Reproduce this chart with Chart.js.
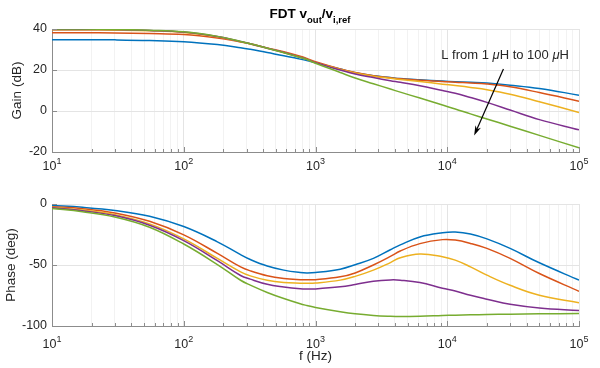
<!DOCTYPE html>
<html>
<head>
<meta charset="utf-8">
<script src="https://cdn.jsdelivr.net/npm/chart.js@4/dist/chart.umd.min.js"></script>
<style>
  body { margin: 0; background: #fff; }
  canvas { display: block; }
</style>
</head>
<body>
<canvas id="gainChart" width="600" height="184"></canvas>
<canvas id="phaseChart" width="600" height="184"></canvas>
<script>
// frequency points (Hz)
const freq = [10, 17, 30, 55, 100, 180, 270, 320, 430, 575, 765, 860, 1000, 1540, 2000, 2750, 3700, 4400, 6200, 9200, 11500, 15000, 20000, 30000, 50000, 100000];

// gain (dB), L from 1 uH (first) to 100 uH (last)
const gainL1 = [34.8, 34.8, 34.7, 34.4, 33.8, 32.4, 30.9, 30.1, 28.5, 27.0, 25.3, 24.6, 23.5, 20.5, 18.7, 17.2, 16.3, 15.8, 15.2, 14.6, 14.3, 14.0, 13.6, 12.6, 11.0, 7.7];
const gainL2 = [38.2, 38.2, 38.1, 37.8, 37.3, 35.6, 33.7, 32.8, 30.8, 28.9, 26.7, 25.6, 24.0, 20.5, 18.8, 17.2, 16.2, 15.7, 15.0, 14.4, 14.0, 13.7, 13.2, 11.8, 9.0, 4.8];
const gainL3 = [39.5, 39.5, 39.4, 39.1, 38.3, 36.2, 33.8, 32.7, 30.6, 28.5, 26.2, 25.2, 23.6, 20.3, 18.5, 17.0, 16.0, 15.4, 14.4, 13.1, 12.4, 11.5, 10.4, 8.2, 4.5, -0.7];
const gainL4 = [39.8, 39.8, 39.7, 39.3, 38.5, 36.3, 33.9, 32.8, 30.6, 28.5, 26.2, 25.2, 23.6, 20.0, 18.0, 16.3, 14.8, 14.0, 12.3, 10.0, 8.7, 6.6, 4.2, 0.5, -4.2, -9.2];
const gainL5 = [40.0, 40.0, 39.8, 39.4, 38.6, 36.4, 33.9, 32.8, 30.6, 28.4, 26.1, 25.1, 23.3, 18.8, 16.1, 13.3, 10.7, 9.2, 6.3, 2.9, 1.0, -1.4, -3.9, -7.4, -11.9, -18.0];

// phase (deg)
const phaseL1 = [-1.2, -2.7, -5.3, -10.0, -18.5, -31.0, -41.5, -45.5, -50.8, -54.2, -56.2, -56.5, -56.2, -53.4, -49.8, -44.6, -37.5, -33.5, -27.0, -23.6, -23.0, -24.6, -28.6, -36.4, -48.2, -62.4];
const phaseL2 = [-2.2, -3.8, -7.3, -14.2, -25.3, -40.5, -51.6, -54.8, -58.8, -61.0, -62.0, -62.1, -62.0, -59.7, -56.5, -50.0, -43.0, -38.5, -32.5, -29.2, -29.6, -32.3, -36.4, -44.6, -57.0, -71.5];
const phaseL3 = [-2.7, -4.9, -8.7, -16.3, -28.6, -44.6, -55.6, -58.9, -62.5, -64.3, -64.9, -65.0, -64.8, -62.4, -59.3, -54.2, -48.0, -44.0, -41.0, -43.2, -46.0, -51.5, -58.3, -66.6, -74.8, -81.0];
const phaseL4 = [-3.0, -5.5, -9.5, -17.4, -30.0, -46.5, -58.6, -61.6, -65.8, -68.0, -69.5, -69.7, -69.6, -67.9, -66.0, -63.3, -62.2, -62.4, -64.3, -69.0, -71.3, -74.8, -78.0, -82.2, -85.2, -87.3];
const phaseL5 = [-3.6, -6.3, -10.6, -19.0, -32.8, -49.6, -62.5, -66.5, -72.5, -77.5, -81.8, -83.2, -84.8, -88.3, -90.0, -91.3, -92.0, -92.2, -92.0, -91.4, -91.1, -90.8, -90.6, -90.3, -90.0, -89.8];

const seriesLabels = ['L1', 'L2', 'L3', 'L4', 'L5'];
const seriesColors = ['#0072BD', '#D95319', '#EDB120', '#7E2F8E', '#77AC30'];

// x axis ticks
const xMajor = [10, 100, 1000, 10000, 100000];
const xExponents = ['1', '2', '3', '4', '5'];
const xGridTicks = [];
xMajor.forEach((m, i) => {
  xGridTicks.push(m);
  if (i < xMajor.length - 1) [2, 3, 4, 5, 6, 7, 8, 9].forEach(k => xGridTicks.push(m * k));
});

const FONT = "'Liberation Sans', Arial, Helvetica, sans-serif";
const TXT = '#262626';
const AXIS = '#8c8c8c';
Chart.defaults.font.family = FONT;

function makeDatasets(arrays) {
  return arrays.map((arr, i) => ({
    label: seriesLabels[i],
    data: freq.map((f, j) => ({ x: f, y: arr[j] })),
    borderColor: seriesColors[i],
    borderWidth: 1.5,
    pointRadius: 0,
    fill: false,
    tension: 0.4,
    order: arrays.length - i
  }));
}

// inward tick marks + "10^n" labels
const axisDecor = {
  id: 'axisDecor',
  afterDraw(chart, args, opts) {
    const { ctx, chartArea: a, scales: { x, y } } = chart;
    ctx.save();
    ctx.strokeStyle = AXIS;
    ctx.lineWidth = 1;
    ctx.beginPath();
    x.ticks.forEach(t => {
      const px = Math.round(x.getPixelForValue(t.value)) + 0.5;
      const len = t.major ? 5 : 3;
      ctx.moveTo(px, a.bottom);
      ctx.lineTo(px, a.bottom - len);
    });
    y.ticks.forEach(t => {
      const py = Math.round(y.getPixelForValue(t.value)) + 0.5;
      ctx.moveTo(a.left, py);
      ctx.lineTo(a.left + 5, py);
    });
    ctx.stroke();

    ctx.fillStyle = TXT;
    ctx.textBaseline = 'alphabetic';
    ctx.textAlign = 'left';
    xMajor.forEach((v, i) => {
      const px = x.getPixelForValue(v);
      ctx.font = '12.5px ' + FONT;
      const wBase = ctx.measureText('10').width;
      ctx.font = '9px ' + FONT;
      const wExp = ctx.measureText(xExponents[i]).width;
      const x0 = px - (wBase + wExp) / 2;
      ctx.font = '12.5px ' + FONT;
      ctx.fillText('10', x0, a.bottom + opts.labelOffset);
      ctx.font = '9px ' + FONT;
      ctx.fillText(xExponents[i], x0 + wBase, a.bottom + opts.labelOffset - 6);
    });
    ctx.restore();
  }
};

// title with subscripts + arrow annotation
const gainExtras = {
  id: 'gainExtras',
  afterDraw(chart) {
    const { ctx, scales: { x, y } } = chart;
    ctx.save();
    ctx.fillStyle = '#000';
    ctx.textBaseline = 'alphabetic';
    ctx.textAlign = 'left';
    const parts = [
      ['FDT v', 13.5, 0], ['out', 9.5, 5], ['/v', 13.5, 0], ['i,ref', 9.5, 5]
    ];
    let total = 0;
    parts.forEach(p => { ctx.font = 'bold ' + p[1] + 'px ' + FONT; total += ctx.measureText(p[0]).width; });
    let tx = 310 - total / 2;
    parts.forEach(p => {
      ctx.font = 'bold ' + p[1] + 'px ' + FONT;
      ctx.fillText(p[0], tx, 18 + p[2]);
      tx += ctx.measureText(p[0]).width;
    });

    // annotation text
    ctx.fillStyle = TXT;
    const ann = [['L from 1 ', ''], ['\u03bc', 'italic '], ['H to 100 ', ''], ['\u03bc', 'italic '], ['H', '']];
    let ax = x.getPixelForValue(9000);
    const ay = y.getPixelForValue(25.5);
    ann.forEach(p => {
      ctx.font = p[1] + '13px ' + FONT;
      ctx.fillText(p[0], ax, ay);
      ax += ctx.measureText(p[0]).width;
    });

    // arrow
    const x1 = x.getPixelForValue(26700), y1 = y.getPixelForValue(20.5);
    const x2 = x.getPixelForValue(16000), y2 = y.getPixelForValue(-12);
    const ang = Math.atan2(y2 - y1, x2 - x1);
    ctx.strokeStyle = '#000';
    ctx.lineWidth = 1.2;
    ctx.beginPath();
    ctx.moveTo(x1, y1);
    ctx.lineTo(x2 - 6 * Math.cos(ang), y2 - 6 * Math.sin(ang));
    ctx.stroke();
    ctx.fillStyle = '#000';
    ctx.beginPath();
    ctx.moveTo(x2, y2);
    ctx.lineTo(x2 - 10 * Math.cos(ang) + 3 * Math.sin(ang), y2 - 10 * Math.sin(ang) - 3 * Math.cos(ang));
    ctx.lineTo(x2 - 7 * Math.cos(ang), y2 - 7 * Math.sin(ang));
    ctx.lineTo(x2 - 10 * Math.cos(ang) - 3 * Math.sin(ang), y2 - 10 * Math.sin(ang) + 3 * Math.cos(ang));
    ctx.closePath();
    ctx.fill();
    ctx.restore();
  }
};

function xScale(height, titleText) {
  return {
    type: 'logarithmic',
    min: 10,
    max: 100000,
    afterBuildTicks(s) { s.ticks = xGridTicks.map(v => ({ value: v, major: xMajor.includes(v) })); },
    ticks: { display: false },
    grid: { color: c => (c.tick && c.tick.major ? '#e4e4e4' : '#f2f2f2'), drawTicks: false },
    border: { color: AXIS },
    title: titleText
      ? { display: true, text: titleText, color: TXT, font: { size: 13.5 }, padding: { top: 0, bottom: 4 } }
      : { display: false },
    afterFit(s) { s.height = height; }
  };
}

function yScale(min, max, step, label, titlePad) {
  return {
    min, max,
    ticks: { stepSize: step, color: TXT, font: { size: 12.5 }, padding: 5 },
    grid: { color: '#e4e4e4', drawTicks: false },
    border: { color: AXIS },
    title: { display: true, text: label, color: TXT, font: { size: 13.5 }, padding: { top: titlePad, bottom: 0 } },
    afterFit(s) { s.width = 52; }
  };
}

const common = {
  responsive: false,
  animation: false,
  events: [],
  plugins: { legend: { display: false }, tooltip: { enabled: false } }
};

new Chart(document.getElementById('gainChart'), {
  type: 'line',
  data: { datasets: makeDatasets([gainL1, gainL2, gainL3, gainL4, gainL5]) },
  options: {
    ...common,
    layout: { padding: { top: 29, right: 21, left: 0, bottom: 0 } },
    plugins: { ...common.plugins, axisDecor: { labelOffset: 18 } },
    scales: { x: xScale(32), y: yScale(-20, 40, 20, 'Gain (dB)', 9) }
  },
  plugins: [axisDecor, gainExtras]
});

new Chart(document.getElementById('phaseChart'), {
  type: 'line',
  data: { datasets: makeDatasets([phaseL1, phaseL2, phaseL3, phaseL4, phaseL5]) },
  options: {
    ...common,
    layout: { padding: { top: 20, right: 21, left: 0, bottom: 0 } },
    plugins: { ...common.plugins, axisDecor: { labelOffset: 22 } },
    scales: { x: xScale(42, 'f (Hz)'), y: yScale(-100, 0, 50, 'Phase (deg)', 3) }
  },
  plugins: [axisDecor]
});
</script>
</body>
</html>
